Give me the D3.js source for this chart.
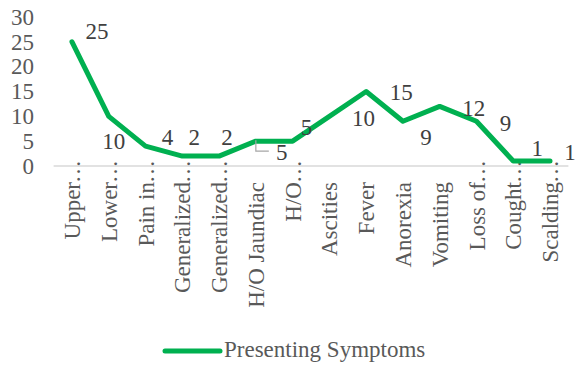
<!DOCTYPE html>
<html>
<head>
<meta charset="utf-8">
<script src="https://cdn.jsdelivr.net/npm/d3@7"></script>
</head>
<body style="margin:0;background:#fff">
<svg id="chart" width="576" height="367" style="display:block"></svg>
<script>
// ---- data ----
const categories = ["Upper", "Lower", "Pain in", "Generalized", "Generalized", "H/O Jaundiac", "H/O",
  "Ascities", "Fever", "Anorexia", "Vomiting", "Loss of", "Cought", "Scalding"];
const truncated = [true, true, true, true, true, false, true, false, false, false, false, true, true, true];
const values = [25, 10, 4, 2, 2, 5, 5, 10, 15, 9, 12, 9, 1, 1];
const yTicks = [0, 5, 10, 15, 20, 25, 30];
const seriesName = "Presenting Symptoms";

// manually placed data-label offsets (layout, px from point)
const labelDx = [25, 5, 22, 12, 8, 26, 14, 34, 35, 23, 34, 29, 24, 20];
const labelDy = [-11, 25, -9, -19, -19, 11, -14, 2, 1, 16, 2, 2, -13, -9];

// ---- layout ----
const svg = d3.select("#chart");
const FONT = "Liberation Serif";
const green = "#00B050";
const axisText = "#595959";
const fs = 23;

function txt(sel) {
  return sel.attr("font-family", FONT).style("font-family", '"Liberation Serif", serif').attr("font-size", fs);
}

const x = d3.scaleBand().domain(d3.range(categories.length)).range([53.6, 568.4]);
const y = d3.scaleLinear().domain([0, 30]).range([166, 17]);
const cx = i => x(i) + x.bandwidth() / 2;

// y tick labels
txt(svg.append("g").selectAll("text").data(yTicks).join("text"))
  .attr("x", 34).attr("y", d => y(d)).attr("dy", "0.34em")
  .attr("text-anchor", "end").attr("fill", axisText)
  .text(d => d);

// category axis line
svg.append("line")
  .attr("x1", x.range()[0]).attr("x2", x.range()[1])
  .attr("y1", y(0)).attr("y2", y(0))
  .attr("stroke", "#d9d9d9").attr("stroke-width", 1.5);

// category labels (rotated)
const catG = svg.append("g");
categories.forEach((c, i) => {
  const g = catG.append("g").attr("transform", `translate(${cx(i)},182) rotate(-90)`);
  txt(g.append("text")).attr("x", 0).attr("y", 0).attr("dy", "0.35em")
    .attr("text-anchor", "end").attr("fill", axisText).text(c);
  if (truncated[i]) {
    txt(g.append("text")).attr("x", -1).attr("y", 0).attr("dy", "0.35em")
      .attr("text-anchor", "start").attr("fill", axisText).text("\u2026");
  }
});

// line
const line = d3.line().x((d, i) => cx(i)).y(d => y(d));
svg.append("path").datum(values)
  .attr("d", line).attr("fill", "none")
  .attr("stroke", green).attr("stroke-width", 5)
  .attr("stroke-linejoin", "round").attr("stroke-linecap", "round");

// leader line for the H/O Jaundiac label
const li = 5;
svg.append("path")
  .attr("d", `M${cx(li)},${y(values[li]) - 1}V${y(values[li]) + 10}H${cx(li) + 13}`)
  .attr("fill", "none").attr("stroke", "#a6a6a6").attr("stroke-width", 1.2);

// data labels
txt(svg.append("g").selectAll("text").data(values).join("text"))
  .attr("x", (d, i) => cx(i) + labelDx[i])
  .attr("y", (d, i) => y(d) + labelDy[i])
  .attr("dy", "0.34em").attr("text-anchor", "middle")
  .attr("fill", "#404040")
  .text(d => d);

// legend
const lg = svg.append("g");
lg.append("line").attr("x1", 165).attr("x2", 220).attr("y1", 351).attr("y2", 351)
  .attr("stroke", green).attr("stroke-width", 5).attr("stroke-linecap", "round");
txt(lg.append("text")).attr("x", 224).attr("y", 357)
  .attr("fill", axisText).text(seriesName);
</script>
</body>
</html>
